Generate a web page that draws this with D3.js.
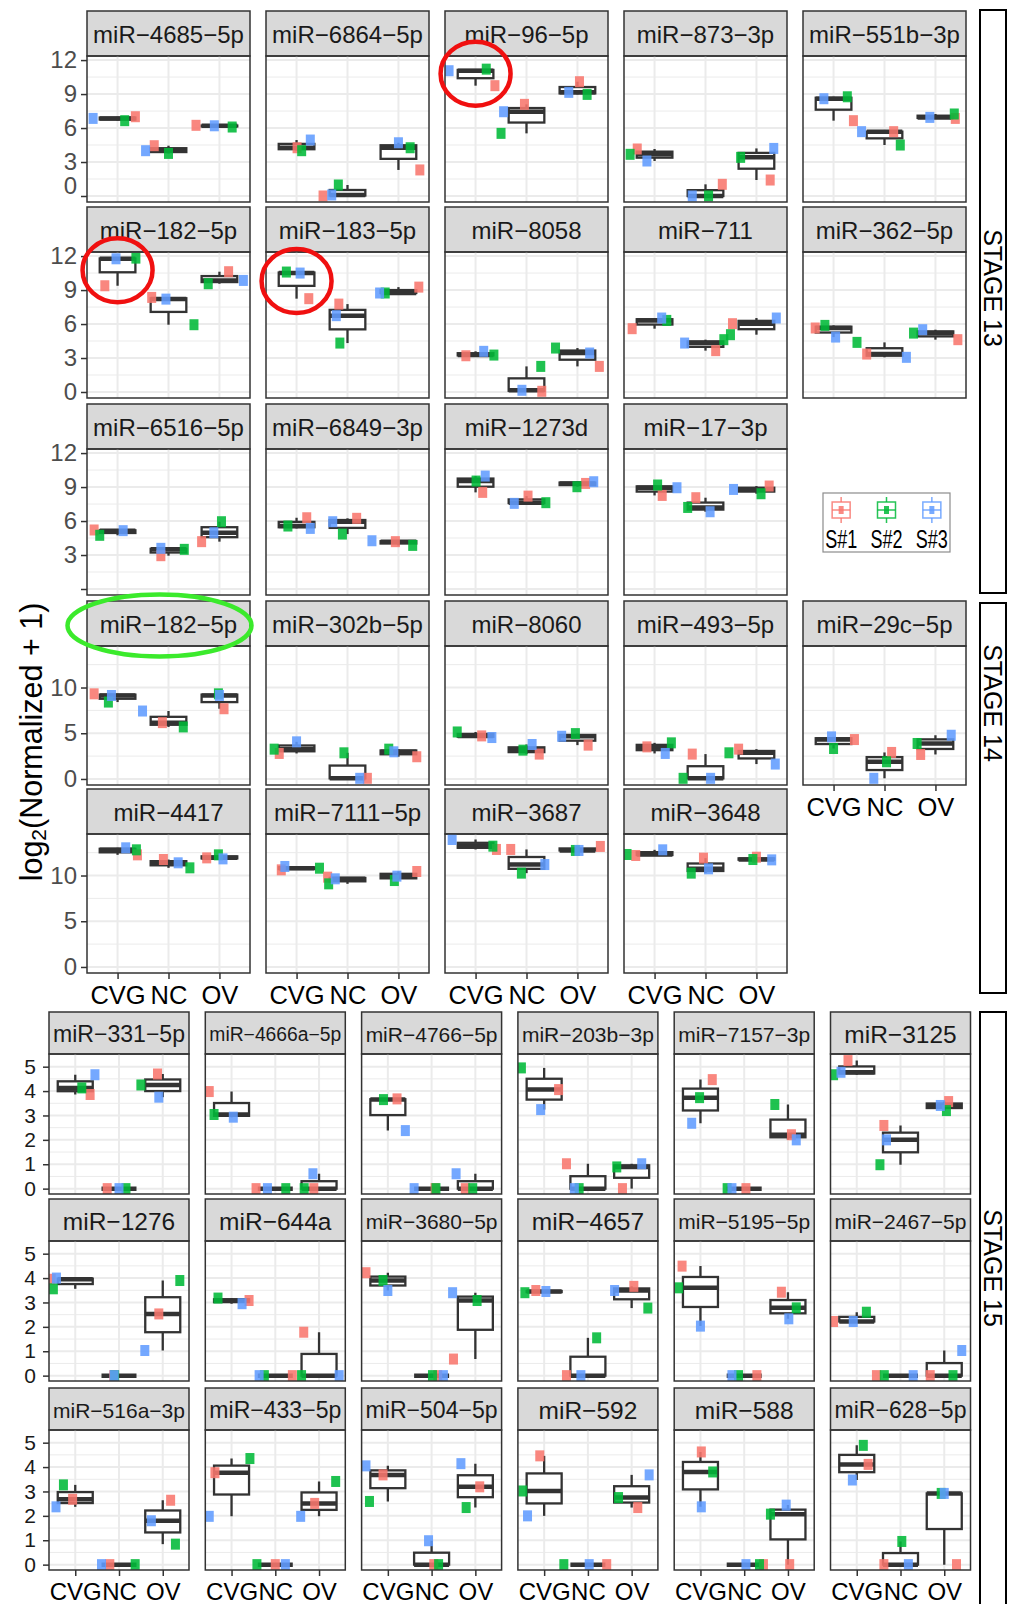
<!DOCTYPE html>
<html>
<head>
<meta charset="utf-8">
<script src="https://cdn.jsdelivr.net/npm/d3@7"></script>
<style>
  body { margin: 0; background: #fff; }
  svg text { font-family: "Liberation Sans", Arial, Helvetica, sans-serif; }
</style>
</head>
<body>
<div id="chart"></div>
<script>
// ---- data: log2(normalized + 1), each group = [S#1, S#2, S#3] ----
const groups = ["CVG", "NC", "OV"];
const samples = ["S#1", "S#2", "S#3"];
const sampleColors = ["#F8766D", "#00BA38", "#619CFF"];

const stage13Names = ["miR-4685-5p", "miR-6864-5p", "miR-96-5p", "miR-873-3p", "miR-551b-3p",
  "miR-182-5p", "miR-183-5p", "miR-8058", "miR-711", "miR-362-5p",
  "miR-6516-5p", "miR-6849-3p", "miR-1273d", "miR-17-3p"];
const stage13Values = [
  [[7.0, 6.65, 6.85], [4.44, 3.76, 4.0], [6.24, 6.09, 6.2]],
  [[4.26, 4.0, 4.94], [0, 0.97, 0.09], [2.3, 4.26, 4.7]],
  [[9.74, 11.2, 11.06], [8.09, 5.53, 7.44], [10.09, 8.97, 9.15]],
  [[4.15, 3.68, 3.09], [1.03, 0, 0], [1.41, 3.41, 4.2]],
  [[6.65, 8.76, 8.59], [5.68, 4.5, 5.68], [6.85, 7.24, 6.94]],
  [[9.38, 11.82, 11.76], [8.35, 5.94, 8.2], [10.62, 9.56, 9.85]],
  [[8.24, 10.59, 10.5], [7.76, 4.32, 6.74], [9.26, 8.74, 8.74]],
  [[3.2, 3.26, 3.59], [0.06, 2.26, 0.15], [2.26, 3.88, 3.44]],
  [[5.59, 6.32, 6.53], [3.65, 4.62, 4.32], [6.03, 5.06, 6.53]],
  [[5.65, 5.88, 4.85], [3.35, 4.38, 3.06], [4.62, 5.2, 5.5]],
  [[5.21, 4.74, 5.15], [2.94, 3.5, 3.59], [4.18, 5.94, 4.97]],
  [[6.29, 5.56, 5.35], [6.24, 4.85, 5.94], [4.18, 3.85, 4.26]],
  [[8.53, 9.53, 9.97], [8.2, 7.62, 7.56], [9.32, 9.03, 9.47]],
  [[8.26, 9.18, 8.94], [8.06, 7.2, 6.82], [9.09, 8.41, 8.79]]
];
// horizontal jitter of each point, in category widths
const stage13Jitter = [
  [[0.35, 0.14, -0.48], [-0.28, 0.0, -0.45], [-0.46, 0.25, -0.1]],
  [[0.01, 0.1, 0.27], [-0.48, -0.18, -0.31], [0.42, 0.23, 0.0]],
  [[0.38, 0.21, -0.52], [-0.04, -0.5, -0.45], [0.04, 0.19, -0.17]],
  [[-0.34, -0.48, -0.15], [0.33, 0.06, -0.26], [0.27, -0.31, 0.34]],
  [[0.39, 0.27, -0.19], [0.18, 0.31, -0.45], [0.39, 0.37, -0.11]],
  [[-0.25, 0.36, -0.03], [-0.33, 0.5, -0.05], [0.18, -0.22, 0.47]],
  [[0.24, -0.2, 0.07], [-0.17, -0.15, -0.22], [0.4, -0.26, -0.37]],
  [[-0.19, 0.36, 0.16], [0.3, 0.28, -0.09], [0.43, -0.43, 0.24]],
  [[-0.44, 0.24, 0.14], [0.2, 0.36, -0.41], [-0.47, -0.51, 0.39]],
  [[-0.36, -0.17, 0.04], [-0.35, -0.54, 0.43], [0.44, -0.43, -0.25]],
  [[-0.46, -0.35, 0.11], [-0.15, 0.31, -0.15], [-0.35, 0.04, -0.11]],
  [[0.2, -0.17, 0.27], [0.18, -0.1, -0.29], [-0.06, 0.28, -0.52]],
  [[0.14, 0.01, 0.19], [0.03, 0.38, -0.24], [0.16, -0.01, 0.32]],
  [[0.15, 0.06, 0.44], [-0.19, -0.35, 0.09], [0.25, 0.09, -0.45]]
];

const stage14Names = ["miR-182-5p", "miR-302b-5p", "miR-8060", "miR-493-5p", "miR-29c-5p",
  "miR-4417", "miR-7111-5p", "miR-3687", "miR-3648"];
const stage14Values = [
  [[9.31, 8.41, 9.13], [6.16, 5.69, 7.43], [7.68, 9.31, 9.13]],
  [[2.79, 3.26, 4.06], [0.07, 2.86, 0.07], [2.43, 3.26, 2.97]],
  [[4.71, 5.14, 4.53], [2.72, 3.15, 3.77], [3.7, 4.96, 4.67]],
  [[3.51, 3.95, 2.79], [2.72, 0.07, 0.07], [3.26, 2.86, 1.63]],
  [[4.31, 3.33, 4.6], [2.9, 1.88, 0.07], [2.68, 3.88, 4.78]],
  [[12.26, 12.81, 13.03], [11.75, 10.84, 11.39], [11.93, 12.26, 11.82]],
  [[10.62, 10.8, 10.99], [9.82, 9.09, 9.64], [10.44, 9.45, 9.93]],
  [[12.85, 13.21, 13.94], [12.85, 10.26, 11.2], [13.18, 12.74, 12.74]],
  [[12.19, 12.3, 12.81], [11.9, 10.26, 10.73], [12.0, 11.75, 11.71]]
];
const stage14Jitter = [
  [[-0.46, -0.18, -0.12], [-0.12, 0.29, -0.51], [0.09, -0.02, 0.0]],
  [[-0.34, -0.44, 0.0], [0.39, -0.07, 0.24], [0.36, -0.19, -0.09]],
  [[0.12, -0.36, 0.32], [0.25, -0.07, 0.11], [0.21, -0.04, -0.31]],
  [[-0.15, 0.33, 0.21], [-0.26, -0.44, 0.1], [-0.35, -0.54, 0.37]],
  [[0.41, 0.0, -0.04], [0.14, 0.04, -0.21], [-0.29, -0.36, 0.31]],
  [[0.39, 0.37, 0.16], [-0.1, 0.42, 0.19], [-0.25, -0.02, 0.07]],
  [[-0.3, 0.45, -0.23], [-0.39, -0.37, -0.24], [0.36, -0.08, -0.03]],
  [[0.41, 0.34, -0.46], [-0.31, -0.1, 0.36], [0.45, -0.04, 0.03]],
  [[-0.37, -0.54, 0.16], [-0.04, -0.28, 0.06], [0.0, -0.07, 0.3]]
];

const stage15Names = ["miR-331-5p", "miR-4666a-5p", "miR-4766-5p", "miR-203b-3p", "miR-7157-3p", "miR-3125",
  "miR-1276", "miR-644a", "miR-3680-5p", "miR-4657", "miR-5195-5p", "miR-2467-5p",
  "miR-516a-3p", "miR-433-5p", "miR-504-5p", "miR-592", "miR-588", "miR-628-5p"];
const stage15Values = [
  [[3.86, 4.13, 4.67], [0, 0, 0], [4.7, 4.25, 3.75]],
  [[3.98, 3.04, 2.93], [0, 0, 0], [0, 0, 0.61]],
  [[3.68, 3.65, 2.38], [0, 0, 0], [0, 0, 0.61]],
  [[4.06, 4.95, 3.24], [1.02, 0, 0], [0, 0.89, 1.02]],
  [[4.47, 3.73, 2.68], [0, 0, 0], [2.21, 3.45, 2.0]],
  [[5.25, 4.67, 4.77], [2.59, 0.98, 2.0], [3.57, 3.2, 3.41]],
  [[3.95, 3.56, 4.0], [0, 0, 0], [2.53, 3.9, 1.03]],
  [[3.08, 3.18, 2.95], [0, 0, 0], [1.78, 0, 0]],
  [[4.22, 3.9, 3.49], [0, 0, 0], [0.68, 3.08, 3.4]],
  [[3.49, 3.4, 3.45], [0, 1.55, 0], [3.66, 2.77, 3.49]],
  [[4.49, 3.6, 2.03], [0, 0, 0], [3.42, 2.78, 2.33]],
  [[2.22, 2.6, 2.22], [0, 0, 0], [0, 0, 1.03]],
  [[2.68, 3.27, 2.37], [0, 0, 0], [2.64, 0.84, 1.8]],
  [[3.77, 4.35, 1.98], [0, 0, 0], [2.51, 3.41, 1.98]],
  [[3.68, 2.59, 4.05], [0, 0, 0.98], [3.19, 2.34, 4.14]],
  [[4.46, 3.02, 2.0], [0, 0, 0], [2.34, 2.75, 3.68]],
  [[4.62, 3.8, 2.37], [0, 0, 0], [0, 2.07, 2.44]],
  [[4.11, 4.89, 3.47], [0, 0.95, 0], [0, 2.92, 2.92]]
];
const stage15Jitter = [
  [[0.34, 0.15, 0.45], [-0.27, 0.16, 0.0], [-0.12, -0.5, -0.09]],
  [[-0.51, -0.4, 0.04], [-0.44, 0.24, -0.18], [-0.12, -0.34, -0.14]],
  [[0.21, -0.1, 0.4], [0.08, 0.1, -0.4], [-0.23, -0.06, -0.44]],
  [[0.33, -0.52, -0.08], [-0.49, -0.2, -0.31], [-0.21, -0.34, 0.23]],
  [[0.27, -0.02, -0.2], [0.04, -0.39, -0.28], [0.08, -0.3, 0.19]],
  [[-0.2, -0.53, -0.36], [-0.38, -0.47, -0.32], [0.1, 0.05, -0.09]],
  [[-0.55, -0.5, -0.43], [-0.12, -0.1, -0.11], [-0.09, 0.39, -0.41]],
  [[0.4, -0.31, 0.24], [0.39, -0.25, -0.37], [-0.35, -0.4, 0.46]],
  [[-0.5, -0.11, 0.0], [0.14, 0.02, 0.27], [-0.5, 0.04, -0.52]],
  [[-0.19, -0.44, 0.04], [-0.49, 0.2, -0.16], [0.05, 0.37, -0.39]],
  [[-0.42, -0.5, 0.0], [0.29, -0.13, -0.28], [-0.15, 0.19, 0.02]],
  [[-0.53, 0.22, -0.08], [-0.55, -0.37, 0.29], [-0.32, 0.2, 0.4]],
  [[-0.06, -0.27, -0.44], [-0.21, 0.37, -0.4], [0.18, 0.29, -0.26]],
  [[-0.38, 0.42, -0.51], [0.0, -0.42, 0.23], [-0.1, 0.38, -0.42]],
  [[-0.11, -0.42, -0.5], [0.05, 0.16, -0.07], [0.1, -0.21, -0.33]],
  [[-0.1, -0.49, -0.38], [0.43, -0.55, 0.03], [0.14, -0.3, 0.4]],
  [[0.02, 0.28, 0.02], [0.44, 0.35, 0.04], [0.04, -0.4, -0.04]],
  [[0.26, 0.15, -0.1], [-0.38, 0.03, 0.18], [0.28, -0.07, 0.0]]
];

const stageLabels = ["STAGE 13", "STAGE 14", "STAGE 15"];
const yTitle = ["log", "2", "(Normalized + 1)"];

// highlighted boxes (stage, miRNA, group, value at centre)
const redCircles = [
  { stage: 13, name: "miR-96-5p", group: "CVG", value: 10.8 },
  { stage: 13, name: "miR-182-5p", group: "CVG", value: 10.75 },
  { stage: 13, name: "miR-183-5p", group: "CVG", value: 9.8 }
];
const greenStrip = { stage: 14, name: "miR-182-5p" };

// ---- page ----
const W = 1016, H = 1604;
const svg = d3.select("#chart").append("svg").attr("width", W).attr("height", H);
svg.append("rect").attr("width", W).attr("height", H).attr("fill", "#fff");
const defs = svg.append("defs");
const panelIndex = {};
let clipCount = 0;

function drawPanel(p) {
  const g = svg.append("g");
  const x = d3.scalePoint().domain(groups).range([p.x0, p.x0 + p.w]).padding(0.6);
  const y = d3.scaleLinear().domain(p.yDomain).range([p.y0 + p.h, p.y0]);
  const step = x.step();
  panelIndex[p.stage + ":" + p.name] = { x, y, p };

  // strip
  g.append("rect").attr("x", p.x0).attr("y", p.stripTop)
    .attr("width", p.w).attr("height", p.y0 - p.stripTop)
    .attr("fill", "#D9D9D9").attr("stroke", "#333").attr("stroke-width", 1.5);
  const st = g.append("text")
    .attr("x", p.x0 + p.w / 2).attr("y", (p.stripTop + p.y0) / 2 + 1)
    .attr("text-anchor", "middle").attr("dominant-baseline", "central")
    .attr("font-size", p.stripFont).attr("fill", "#1A1A1A")
    .text(p.name.replace(/-/g, "\u2212"));
  const len = st.node().getComputedTextLength();
  if (len > p.stripMaxW) st.attr("font-size", p.stripFont * p.stripMaxW / len);

  const id = "clip" + (clipCount++);
  defs.append("clipPath").attr("id", id).append("rect")
    .attr("x", p.x0).attr("y", p.y0).attr("width", p.w).attr("height", p.h);
  const body = g.append("g").attr("clip-path", `url(#${id})`);

  // grid
  body.selectAll(".minor").data(p.yMinor).join("line")
    .attr("x1", p.x0).attr("x2", p.x0 + p.w)
    .attr("y1", d => y(d)).attr("y2", d => y(d))
    .attr("stroke", "#EBEBEB").attr("stroke-width", 1);
  body.selectAll(".major").data(p.yTicks).join("line")
    .attr("x1", p.x0).attr("x2", p.x0 + p.w)
    .attr("y1", d => y(d)).attr("y2", d => y(d))
    .attr("stroke", "#EBEBEB").attr("stroke-width", 2);
  body.selectAll(".vgrid").data(groups).join("line")
    .attr("x1", d => x(d)).attr("x2", d => x(d))
    .attr("y1", p.y0).attr("y2", p.y0 + p.h)
    .attr("stroke", "#EBEBEB").attr("stroke-width", 2);

  // boxplots
  const bw = p.boxFrac * step;
  groups.forEach((grp, gi) => {
    const s = p.vals[gi].slice().sort(d3.ascending);
    const q1 = d3.quantile(s, 0.25), med = d3.quantile(s, 0.5), q3 = d3.quantile(s, 0.75);
    const cx = x(grp);
    const bx = body.append("g").attr("stroke", "#333").attr("fill", "none");
    bx.append("line").attr("x1", cx).attr("x2", cx).attr("y1", y(s[2])).attr("y2", y(q3)).attr("stroke-width", 2.3);
    bx.append("line").attr("x1", cx).attr("x2", cx).attr("y1", y(q1)).attr("y2", y(s[0])).attr("stroke-width", 2.3);
    bx.append("rect").attr("x", cx - bw / 2).attr("y", y(q3))
      .attr("width", bw).attr("height", Math.max(0, y(q1) - y(q3)))
      .attr("fill", "#fff").attr("stroke-width", 2.3);
    bx.append("line").attr("x1", cx - bw / 2).attr("x2", cx + bw / 2)
      .attr("y1", y(med)).attr("y2", y(med)).attr("stroke-width", 4.5);
  });

  // jittered points
  const pts = [];
  groups.forEach((grp, gi) => samples.forEach((s, si) =>
    pts.push({ grp, si, v: p.vals[gi][si], j: p.jit[gi][si] })));
  body.selectAll(".pt").data(pts).join("rect")
    .attr("x", d => x(d.grp) + d.j * step - 4.5)
    .attr("y", d => y(d.v) - 5.5)
    .attr("width", 9).attr("height", 11)
    .attr("fill", d => sampleColors[d.si]).attr("fill-opacity", 0.88);

  // border
  g.append("rect").attr("x", p.x0).attr("y", p.y0).attr("width", p.w).attr("height", p.h)
    .attr("fill", "none").attr("stroke", "#333").attr("stroke-width", 1.5);

  if (p.showY) {
    const ax = g.append("g").attr("transform", `translate(${p.x0},0)`)
      .call(d3.axisLeft(y).tickValues(p.yTicks).tickSize(6).tickPadding(p.yPad).tickFormat(p.yFmt));
    ax.select(".domain").remove();
    ax.selectAll(".tick line").attr("stroke", "#333").attr("stroke-width", 1.5);
    ax.selectAll(".tick text").attr("font-size", p.yFont).attr("fill", p.yColor)
      .attr("font-family", null);
    if (p.zeroShift) ax.selectAll(".tick text").filter(d => d === 0).attr("transform", `translate(0,${p.zeroShift})`);
  }
  if (p.showX) {
    const ax = g.append("g").attr("transform", `translate(0,${p.y0 + p.h})`)
      .call(d3.axisBottom(x).tickSize(6).tickPadding(7));
    ax.select(".domain").remove();
    ax.selectAll(".tick line").attr("stroke", "#333").attr("stroke-width", 1.5);
    ax.selectAll(".tick text").attr("font-size", p.xFont).attr("fill", "#000")
      .attr("font-family", null);
  }
}

// ---- top block: stages 13 & 14 ----
const topColX = d3.range(5).map(i => 87 + i * 179);
const topStripTop = [11, 207, 404, 601, 789];
const topPanelH = [146, 146, 146, 139, 139];
const topDomains = [[-0.53, 12.36], [-0.53, 12.36], [-0.53, 12.36], [-0.66, 14.54], [-0.66, 14.54]];
const topTicks = [[0, 3, 6, 9, 12], [0, 5, 10]];
const topMinor = [[1.5, 4.5, 7.5, 10.5], [2.5, 7.5, 12.5]];

const topCells = [];
stage13Names.forEach((n, i) => topCells.push({ stage: 13, name: n, vals: stage13Values[i], jit: stage13Jitter[i], row: Math.floor(i / 5), col: i % 5 }));
stage14Names.forEach((n, i) => topCells.push({ stage: 14, name: n, vals: stage14Values[i], jit: stage14Jitter[i], row: 3 + Math.floor(i / 5), col: i % 5 }));
const lastRow = d3.rollup(topCells, v => d3.max(v, c => c.row), c => c.col);

topCells.forEach(c => {
  const t = c.row < 3 ? 0 : 1;
  drawPanel({
    stage: c.stage, name: c.name, vals: c.vals, jit: c.jit,
    x0: topColX[c.col], w: 163,
    stripTop: topStripTop[c.row], y0: topStripTop[c.row] + 45, h: topPanelH[c.row],
    yDomain: topDomains[c.row], yTicks: topTicks[t], yMinor: topMinor[t],
    boxFrac: 0.7, stripFont: 24, stripMaxW: 154,
    showY: c.col === 0, yPad: 4, yFont: 24, yColor: "#4D4D4D",
    yFmt: c.row === 2 ? (d => d === 0 ? "" : d) : (d => d),
    zeroShift: c.row === 0 ? -10 : 0,
    showX: lastRow.get(c.col) === c.row, xFont: 25.5
  });
});

// ---- bottom block: stage 15 ----
const botColX = d3.range(6).map(i => 49 + i * 156.3);
const botStripTop = [1012, 1199, 1388];
stage15Names.forEach((n, i) => {
  const row = Math.floor(i / 6), col = i % 6;
  drawPanel({
    stage: 15, name: n, vals: stage15Values[i], jit: stage15Jitter[i],
    x0: botColX[col], w: 140,
    stripTop: botStripTop[row], y0: botStripTop[row] + 42, h: 140,
    yDomain: [-0.22, 5.52], yTicks: [0, 1, 2, 3, 4, 5], yMinor: [0.5, 1.5, 2.5, 3.5, 4.5],
    boxFrac: 0.8, stripFont: 24.5, stripMaxW: 132,
    showY: col === 0, yPad: 7, yFont: 21, yColor: "#1A1A1A",
    yFmt: d => d, zeroShift: 0,
    showX: row === 2, xFont: 24
  });
});

// ---- stage strips on the right ----
const stageBoxes = [[10, 593, 288], [603, 993, 703], [1012, 1650, 1268]];
stageBoxes.forEach(([y1, y2, ty], i) => {
  svg.append("rect").attr("x", 980).attr("y", y1).attr("width", 26).attr("height", y2 - y1)
    .attr("fill", "#fff").attr("stroke", "#000").attr("stroke-width", 2);
  svg.append("text").attr("transform", `translate(993,${ty}) rotate(90)`)
    .attr("text-anchor", "middle").attr("dominant-baseline", "central")
    .attr("font-size", 25).attr("fill", "#000").text(stageLabels[i]);
});

// ---- y title ----
const yt = svg.append("text").attr("transform", "translate(31,742) rotate(-90)")
  .attr("text-anchor", "middle").attr("dominant-baseline", "central")
  .attr("font-size", 30.5).attr("fill", "#000");
yt.append("tspan").text(yTitle[0]);
yt.append("tspan").attr("font-size", 21).attr("dy", 7).text(yTitle[1]);
yt.append("tspan").attr("dy", -7).text(yTitle[2]);

// ---- legend ----
const lg = svg.append("g");
lg.append("rect").attr("x", 823).attr("y", 493).attr("width", 127).attr("height", 59)
  .attr("fill", "#fff").attr("stroke", "#8C8C8C").attr("stroke-width", 1.2);
const lx = d3.scalePoint().domain(samples).range([823, 950]).padding(0.4);
samples.forEach((s, i) => {
  const cx = lx(s), col = sampleColors[i];
  const k = lg.append("g").attr("stroke", col).attr("stroke-opacity", 0.85).attr("fill", "none");
  k.append("line").attr("x1", cx).attr("x2", cx).attr("y1", 497).attr("y2", 523).attr("stroke-width", 1.5);
  k.append("rect").attr("x", cx - 9).attr("y", 502).attr("width", 18).attr("height", 16)
    .attr("fill", "#fff").attr("stroke-width", 1.5);
  k.append("line").attr("x1", cx - 9).attr("x2", cx + 9).attr("y1", 510).attr("y2", 510).attr("stroke-width", 1.5);
  lg.append("rect").attr("x", cx - 2.5).attr("y", 506).attr("width", 5).attr("height", 8)
    .attr("fill", col).attr("fill-opacity", 0.85);
  lg.append("text").attr("x", cx).attr("y", 548).attr("text-anchor", "middle")
    .attr("font-size", 25).attr("fill", "#000")
    .attr("textLength", 32).attr("lengthAdjust", "spacingAndGlyphs").text(s);
});

// ---- highlight annotations ----
redCircles.forEach(c => {
  const pi = panelIndex[c.stage + ":" + c.name];
  svg.append("ellipse").attr("cx", pi.x(c.group)).attr("cy", pi.y(c.value))
    .attr("rx", 35).attr("ry", 32)
    .attr("fill", "none").attr("stroke", "#F01010").attr("stroke-width", 4.5);
});
{
  const pi = panelIndex[greenStrip.stage + ":" + greenStrip.name].p;
  svg.append("ellipse").attr("cx", pi.x0 + pi.w / 2 - 9).attr("cy", (pi.stripTop + pi.y0) / 2 + 2)
    .attr("rx", 92).attr("ry", 31)
    .attr("fill", "none").attr("stroke", "#3BEA2C").attr("stroke-width", 4.5);
}
</script>
</body>
</html>
